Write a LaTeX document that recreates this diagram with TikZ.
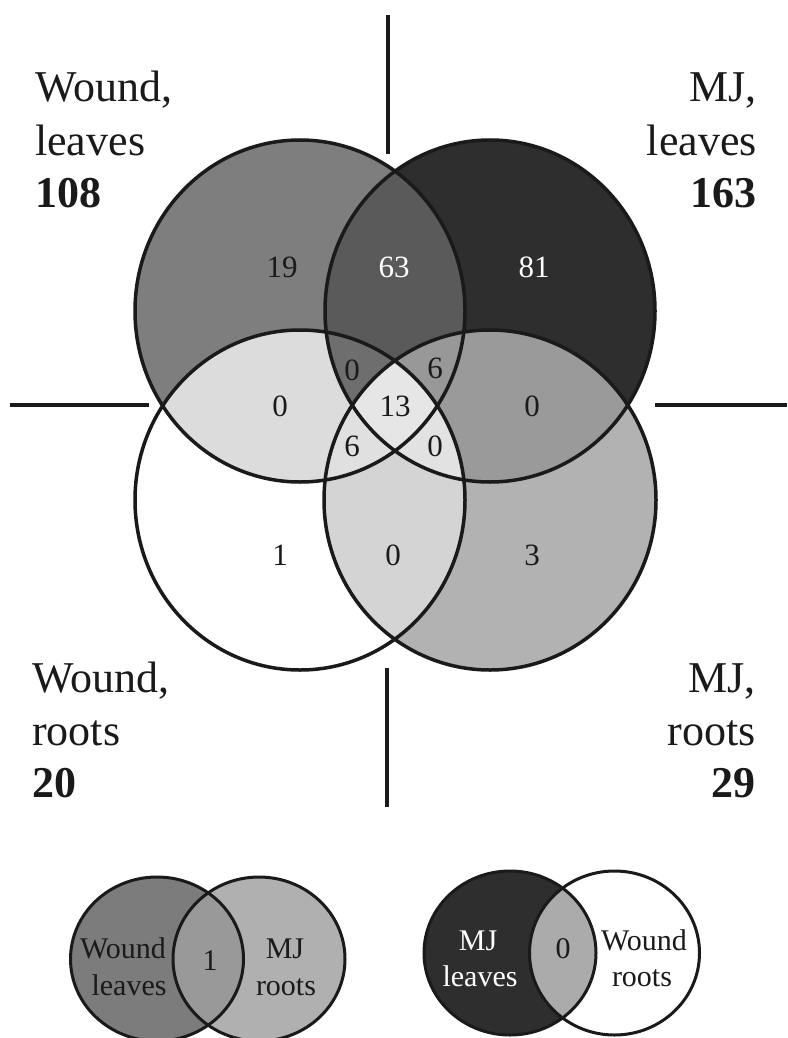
\documentclass[tikz,border=0pt]{standalone}
\usepackage{fontspec}
\setmainfont{Liberation Serif}
\definecolor{cWL}{HTML}{7E7E7E}
\definecolor{cML}{HTML}{2E2E2E}
\definecolor{cWR}{HTML}{FFFFFF}
\definecolor{cMR}{HTML}{B2B2B2}
\definecolor{cWLML}{HTML}{5A5A5A}
\definecolor{cWLWR}{HTML}{DCDCDC}
\definecolor{cMLMR}{HTML}{9A9A9A}
\definecolor{cWRMR}{HTML}{D4D4D4}
\definecolor{cWLMLWR}{HTML}{6E6E6E}
\definecolor{cWLMLMR}{HTML}{989898}
\definecolor{cWLWRMR}{HTML}{E0E0E0}
\definecolor{cMLWRMR}{HTML}{E2E2E2}
\definecolor{cAll}{HTML}{E6E6E6}
\definecolor{sWL}{HTML}{7C7C7C}
\definecolor{sMR}{HTML}{B0B0B0}
\definecolor{sLensA}{HTML}{999999}
\definecolor{sML}{HTML}{2E2E2E}
\definecolor{sLensB}{HTML}{ABABAB}
\definecolor{ink}{HTML}{1A1A1A}
\begin{document}
\begin{tikzpicture}[x=1pt,y=-1pt,
  outline/.style={draw=ink, line width=3.5pt},
  thinoutline/.style={draw=ink, line width=3pt},
  axisline/.style={draw=ink, line width=4pt},
  biglabel/.style={inner sep=0pt, text=ink, font=\fontsize{44}{52}\selectfont},
  bignum/.style={inner sep=0pt, text=ink, font=\fontsize{44}{52}\selectfont\bfseries},
  cnt/.style={inner sep=0pt, text=ink, font=\fontsize{31}{36}\selectfont},
  smalllabel/.style={inner sep=0pt, text=ink, font=\fontsize{30}{36}\selectfont},
]
\useasboundingbox (0,0) rectangle (787,1038);
\fill[white] (0,0) rectangle (787,1038);

% ---- main four-set diagram ----
\def\WL{(300,311) ellipse [x radius=165pt, y radius=171pt]}
\def\ML{(490,311) ellipse [x radius=165pt, y radius=171pt]}
\def\WR{(300,500) ellipse [x radius=165pt, y radius=170pt]}
\def\MR{(490,500) ellipse [x radius=166pt, y radius=170pt]}

\fill[cWL] \WL;
\fill[cML] \ML;
\fill[cWR] \WR;
\fill[cMR] \MR;
\begin{scope}\clip \WL; \fill[cWLML] \ML; \fill[cWLWR] \WR; \end{scope}
\begin{scope}\clip \MR; \fill[cMLMR] \ML; \fill[cWRMR] \WR; \end{scope}
\begin{scope}\clip \WL; \clip \ML; \fill[cWLMLWR] \WR; \fill[cWLMLMR] \MR; \end{scope}
\begin{scope}\clip \WR; \clip \MR; \fill[cWLWRMR] \WL; \fill[cMLWRMR] \ML; \end{scope}
\begin{scope}\clip \WL; \clip \ML; \clip \WR; \fill[cAll] \MR; \end{scope}

\draw[outline] \WL;
\draw[outline] \ML;
\draw[outline] \WR;
\draw[outline] \MR;

% axis lines
\coordinate (vt1) at (388,15);  \coordinate (vt2) at (388,154);
\coordinate (vb1) at (387,668); \coordinate (vb2) at (387,807);
\coordinate (hl1) at (10,405);  \coordinate (hl2) at (149,405);
\coordinate (hr1) at (655,405); \coordinate (hr2) at (787,405);
\draw[axisline] (vt1) -- (vt2);
\draw[axisline] (vb1) -- (vb2);
\draw[axisline] (hl1) -- (hl2);
\draw[axisline] (hr1) -- (hr2);

% region counts
\node[cnt] (n19) at (282,267) {19};
\node[cnt, text=white] (n63) at (394,267) {63};
\node[cnt, text=white] (n81) at (534,267) {81};
\node[cnt] (nA) at (352,370) {0};
\node[cnt] (nB) at (435,368) {6};
\node[cnt] (nC) at (280,406) {0};
\node[cnt] (n13) at (395,406) {13};
\node[cnt] (nD) at (532,406) {0};
\node[cnt] (nE) at (352,446) {6};
\node[cnt] (nF) at (435,446) {0};
\node[cnt] (n1) at (280,555) {1};
\node[cnt] (nG) at (393,555) {0};
\node[cnt] (n3) at (532,555) {3};

% corner labels
\node[biglabel, anchor=base west] (wl1) at (35,102) {Wound,};
\node[biglabel, anchor=base west] (wl2) at (35,155) {leaves};
\node[bignum, anchor=base west] (wl3) at (35,207) {108};
\node[biglabel, anchor=base east] (ml1) at (757,102) {MJ,};
\node[biglabel, anchor=base east] (ml2) at (757,155) {leaves};
\node[bignum, anchor=base east] (ml3) at (757,207) {163};
\node[biglabel, anchor=base west] (wr1) at (32,692) {Wound,};
\node[biglabel, anchor=base west] (wr2) at (32,745) {roots};
\node[bignum, anchor=base west] (wr3) at (32,797) {20};
\node[biglabel, anchor=base east] (mr1) at (756,692) {MJ,};
\node[biglabel, anchor=base east] (mr2) at (756,745) {roots};
\node[bignum, anchor=base east] (mr3) at (756,797) {29};

% ---- small diagram: Wound leaves / MJ roots ----
\def\SA{(157,959) ellipse [x radius=86.5pt, y radius=82pt]}
\def\SB{(259,959) ellipse [x radius=86pt, y radius=82pt]}
\fill[sWL] \SA;
\fill[sMR] \SB;
\begin{scope}\clip \SA; \fill[sLensA] \SB; \end{scope}
\draw[thinoutline] \SA;
\draw[thinoutline] \SB;
\node[smalllabel, anchor=base] (sa1) at (123,958) {Wound};
\node[smalllabel, anchor=base] (sa2) at (129,995) {leaves};
\node[smalllabel, anchor=base] (sa3) at (210,970) {1};
\node[smalllabel, anchor=base] (sa4) at (285,958) {MJ};
\node[smalllabel, anchor=base] (sa5) at (286,995) {roots};

% ---- small diagram: MJ leaves / Wound roots ----
\def\SC{(510,953) ellipse [x radius=86pt, y radius=82pt]}
\def\SD{(614.5,953) ellipse [x radius=85pt, y radius=82pt]}
\fill[sML] \SC;
\fill[white] \SD;
\begin{scope}\clip \SC; \fill[sLensB] \SD; \end{scope}
\draw[thinoutline] \SC;
\draw[thinoutline] \SD;
\node[smalllabel, anchor=base, text=white] (sb1) at (478,950) {MJ};
\node[smalllabel, anchor=base, text=white] (sb2) at (480,986) {leaves};
\node[smalllabel, anchor=base] (sb3) at (563,958) {0};
\node[smalllabel, anchor=base] (sb4) at (644,950) {Wound};
\node[smalllabel, anchor=base] (sb5) at (642,986) {roots};
\end{tikzpicture}
\end{document}
